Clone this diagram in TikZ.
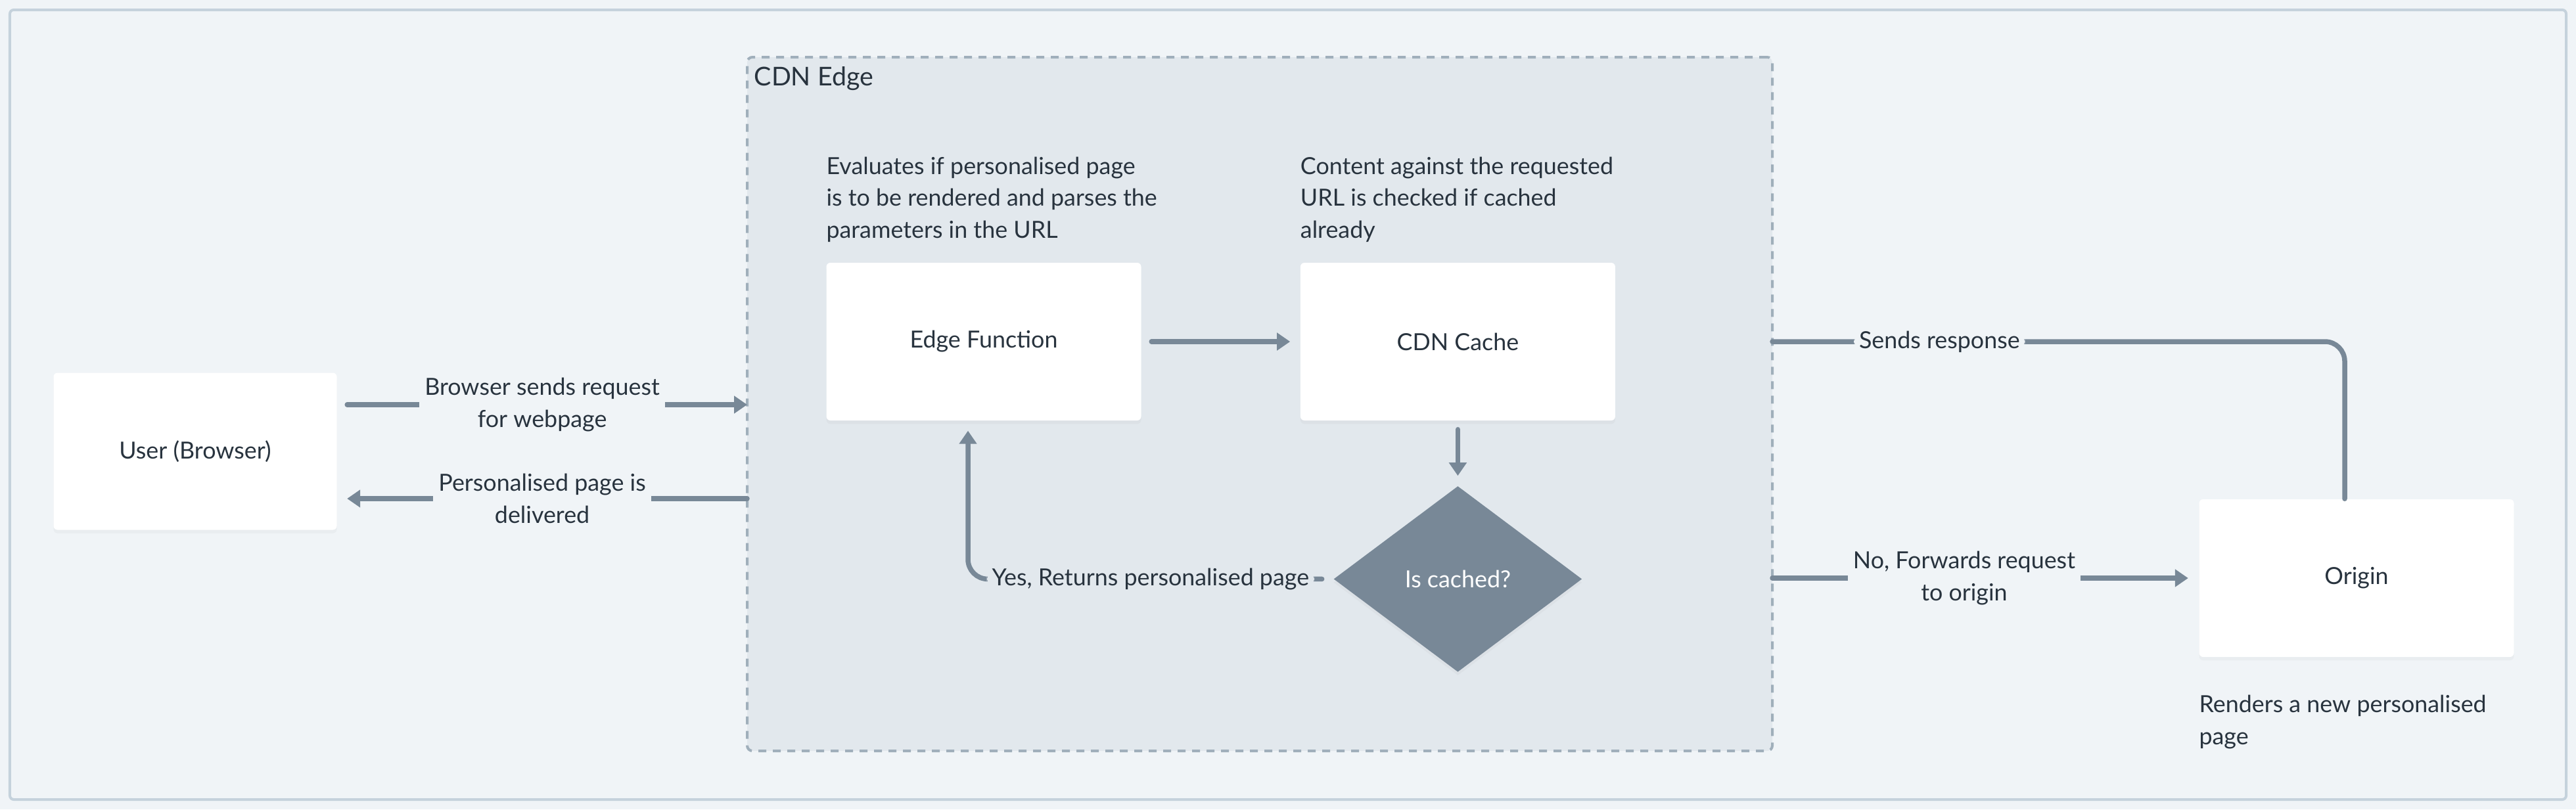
\documentclass[tikz,border=0pt]{standalone}
\usepackage{fontspec}
\setmainfont{Lato}
\usepackage{xcolor}
\usetikzlibrary{%
   arrows.meta,%
   calc,%
   positioning,%
   shapes.geometric,%
   shadows}
\definecolor{pagebg}{HTML}{F0F4F7}
\definecolor{pageline}{HTML}{C5D2DC}
\definecolor{edgebg}{HTML}{E2E8ED}
\definecolor{edgeline}{HTML}{A0AFBB}
\definecolor{flowgrey}{HTML}{788897}
\definecolor{inktext}{HTML}{28333E}
\tikzset{>={Triangle[width=0.26cm,length=0.2cm]}}
\tikzset{
  flow box/.style={
    rectangle,
    fill=white,
    rounded corners=0.06cm,
    minimum width=4.79cm,
    minimum height=2.40cm,
    text=inktext,
    drop shadow={opacity=0.06,shadow xshift=0pt,shadow yshift=-1.5pt},
  },
  flow decision/.style={
    diamond,
    fill=flowgrey,
    minimum width=3.78cm,
    minimum height=2.83cm,
    inner sep=0pt,
    text=white,
    drop shadow={opacity=0.06,shadow xshift=0pt,shadow yshift=-1.5pt},
  },
  flow edge/.style={
    draw=flowgrey,
    line width=0.075cm,
    line cap=round,
  },
  flow arrow/.style={
    flow edge,
    ->,
  },
  flow label/.style={
    fill=pagebg,
    text=inktext,
    align=center,
    inner sep=0.08cm,
  },
  flow note/.style={
    text=inktext,
    align=left,
    inner sep=0pt,
  },
  edge group/.style={
    rectangle,
    draw=edgeline,
    fill=edgebg,
    line width=0.04cm,
    dash pattern=on 0.12cm off 0.1cm,
    rounded corners=0.08cm,
    outer sep=0pt,
    minimum width=15.6cm,
    minimum height=10.56cm,
  },
}

\begin{document}
\begin{tikzpicture}[
            font=\fontsize{10.2}{13.8}\selectfont, % text size of all nodes
            text=inktext
        ]

        % page and frame
        \fill[pagebg] (0,0) rectangle (39.2,-12.32);
        \draw[draw=pageline, line width=0.04cm, rounded corners=0.06cm] (0.15,-0.15) rectangle (39.05,-12.17);

        \node[edge group] (cdn) at (19.17,-6.15) {};
        \node[flow note, font=\fontsize{11.2}{14}\selectfont, anchor=north west] (cdntitle) at ([shift={(0.1cm,-0.14cm)}]cdn.north west) {CDN Edge};

        \node[flow box, minimum width=4.31cm, minimum height=2.39cm] (user) at (2.97,-6.87) {User (Browser)};
        \node[flow box] (edgefn) at (14.97,-5.20) {Edge Function};
        \node[flow box] (cache) [right=2.41cm of edgefn] {CDN Cache};
        \node[flow decision] (iscached) [below=0.985cm of cache] {Is cached?};
        \node[flow box] (origin) at (35.86,-8.80) {Origin};

        \node[flow note, above right=0.3cm and 0cm of edgefn.north west] (edgenote) {Evaluates if personalised page\\is to be rendered and parses the\\parameters in the URL};
        \node[flow note, above right=0.3cm and 0cm of cache.north west] (cachenote) {Content against the requested\\URL is checked if cached\\already};
        \node[flow note, below right=0.57cm and 0cm of origin.south west] (originnote) {Renders a new personalised\\page};

        \coordinate (req) at ([yshift=0.71cm]user.east);
        \coordinate (dlv) at ([yshift=-0.72cm]user.east);

        \draw[flow arrow, shorten <=0.15cm] (req) -- node[flow label] {Browser sends request\\for webpage} (req -| cdn.west);
        \draw[flow arrow, shorten >=0.15cm] (dlv -| cdn.west) -- node[flow label] {Personalised page is\\delivered} (dlv);

        \draw[flow arrow, shorten <=0.15cm, shorten >=0.15cm] (edgefn) -- (cache);
        \draw[flow arrow, shorten <=0.13cm, shorten >=0.15cm] (cache) -- (iscached);

        \draw[flow arrow, rounded corners=0.3cm, shorten <=0.17cm, shorten >=0.15cm] (iscached.west) -| node[pos=0.25, flow label, fill=edgebg] {Yes, Returns personalised page} ([xshift=-0.24cm]edgefn.south);

        \draw[flow arrow, shorten >=0.16cm] (cdn.east |- origin.west) -- node[pos=0.45, flow label] {No, Forwards request\\to origin} (origin.west);
        \draw[flow edge, rounded corners=0.3cm] ([xshift=-0.18cm]origin.north) |- node[pos=0.854, flow label] {Sends response} (cdn.east |- edgefn.east);

\end{tikzpicture}
\end{document}
